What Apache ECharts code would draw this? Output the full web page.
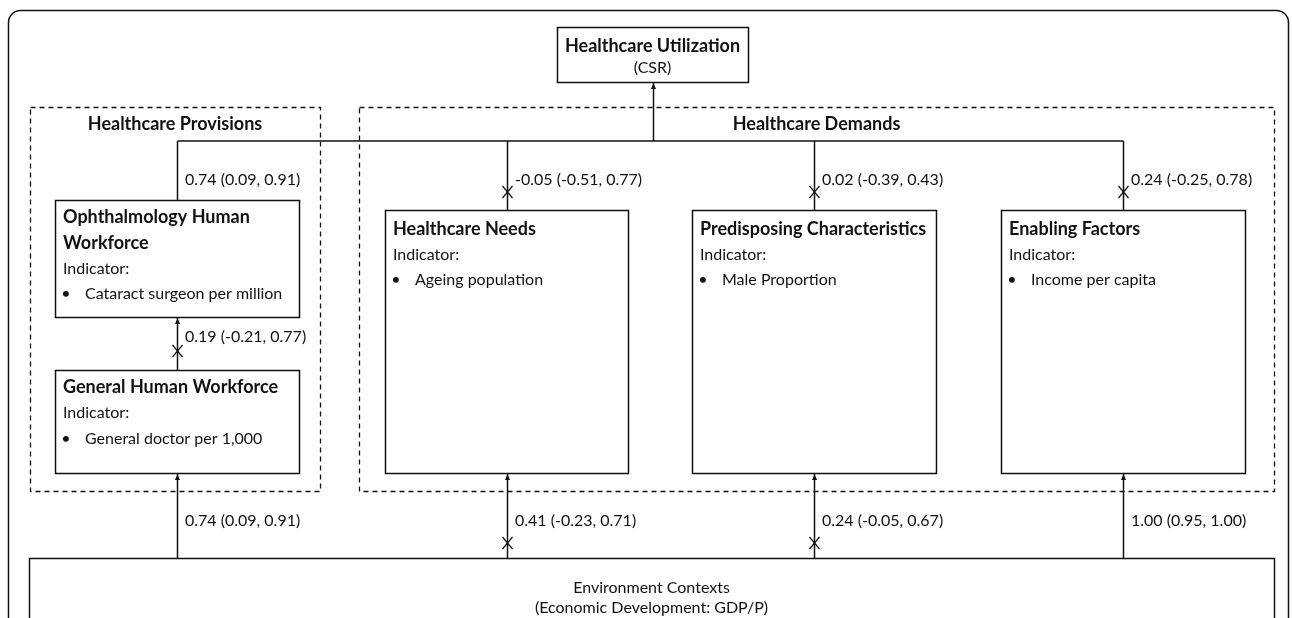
<!DOCTYPE html>
<html><head><meta charset="utf-8">
<script src="https://cdn.jsdelivr.net/npm/echarts@6/dist/echarts.min.js"></script>
<style>html,body{margin:0;padding:0;background:#fff}#c{width:1292px;height:618px}</style>
</head><body><div id="c"></div>
<script>
// ---- data ----
const nodeIds = ['util','ophth','general','needs','pred','enab','env'];
const nodeTitles = ['Healthcare Utilization','Ophthalmology Human|Workforce','General Human Workforce','Healthcare Needs','Predisposing Characteristics','Enabling Factors','Environment Contexts'];
const nodeSubtitles = ['(CSR)','','','','','','(Economic Development: GDP/P)'];
const nodeIndicators = ['', 'Cataract surgeon per million','General doctor per 1,000','Ageing population','Male Proportion','Income per capita',''];
const groupTitles = ['Healthcare Provisions','Healthcare Demands'];
// paths: from -> to, estimate (lower, upper)
const pathFrom = ['ophth','needs','pred','enab','general','env','env','env','env'];
const pathTo   = ['util','util','util','util','ophth','general','needs','pred','enab'];
const pathEst   = [0.74, -0.05, 0.02, 0.24, 0.19, 0.74, 0.41, 0.24, 1.00];
const pathLower = [0.09, -0.51, -0.39, -0.25, -0.21, 0.09, -0.23, -0.05, 0.95];
const pathUpper = [0.91, 0.77, 0.43, 0.78, 0.77, 0.91, 0.71, 0.67, 1.00];

// ---- layout (positions / sizes) ----
const boxLayout = {
  util:{x:557,y:27,w:191,h:55},
  ophth:{x:55,y:200,w:244,h:117},
  general:{x:55,y:370,w:244,h:103},
  needs:{x:385,y:210,w:243,h:263},
  pred:{x:692,y:210,w:244,h:263},
  enab:{x:1001,y:210,w:244,h:263},
  env:{x:29,y:558,w:1245,h:120}
};
const groupLayout = [{x:30,y:107,w:290,h:384},{x:359,y:107,w:915,h:384}];
const busY = 141;
const FONT = 'Lato';
const INK = '#111';
const REG = '16px ' + FONT;
const BOLD = 'bold 18px ' + FONT;
const els = [];

function fmt(v){ return v.toFixed(2); }

// outer frame
els.push({type:'rect', shape:{x:8.5,y:10.5,width:1280,height:700,r:12}, style:{fill:'none',stroke:INK,lineWidth:1.5}});

// groups
groupLayout.forEach((g,i)=>{
  els.push({type:'rect', shape:{x:g.x+0.5,y:g.y+0.5,width:g.w,height:g.h}, style:{fill:'none',stroke:INK,lineWidth:1.3,lineDash:[5,4]}});
  els.push({type:'text', x:g.x+g.w/2, y:g.y+17, style:{text:groupTitles[i],font:BOLD,fill:INK,align:'center',verticalAlign:'middle'}});
});

// boxes
nodeIds.forEach((id,i)=>{
  const b = boxLayout[id];
  els.push({type:'rect', shape:{x:b.x+0.5,y:b.y+0.5,width:b.w,height:b.h}, style:{fill:'#fff',stroke:INK,lineWidth:1.5}, z:2});
  if (id==='util'){
    els.push({type:'text', x:b.x+b.w/2, y:b.y+19, z:3, style:{text:nodeTitles[i],font:BOLD,fill:INK,align:'center',verticalAlign:'middle'}});
    els.push({type:'text', x:b.x+b.w/2, y:b.y+41, z:3, style:{text:nodeSubtitles[i],font:REG,fill:INK,align:'center',verticalAlign:'middle'}});
  } else if (id==='env'){
    els.push({type:'text', x:b.x+b.w/2, y:b.y+30, z:3, style:{text:nodeTitles[i],font:REG,fill:INK,align:'center',verticalAlign:'middle'}});
    els.push({type:'text', x:b.x+b.w/2, y:b.y+50, z:3, style:{text:nodeSubtitles[i],font:REG,fill:INK,align:'center',verticalAlign:'middle'}});
  } else {
    const lines = nodeTitles[i].split('|');
    let y = b.y + (id==='needs'||id==='pred'||id==='enab' ? 19 : 17.5);
    lines.forEach(l=>{
      els.push({type:'text', x:b.x+8, y:y, z:3, style:{text:l,font:BOLD,fill:INK,align:'left',verticalAlign:'middle'}});
      y += 25.5;
    });
    els.push({type:'text', x:b.x+8, y:y, z:3, style:{text:'Indicator:',font:REG,fill:INK,align:'left',verticalAlign:'middle'}});
    y += 25.5;
    els.push({type:'text', x:b.x+11, y:y, z:3, style:{text:'•',font:REG,fill:INK,align:'center',verticalAlign:'middle'}});
    els.push({type:'text', x:b.x+30, y:y, z:3, style:{text:nodeIndicators[i],font:REG,fill:INK,align:'left',verticalAlign:'middle'}});
  }
});

function cx(id){ const b=boxLayout[id]; return Math.round(b.x+b.w/2)+0.5; }
function line(x1,y1,x2,y2,w){ els.push({type:'line', shape:{x1,y1,x2,y2}, style:{stroke:INK,lineWidth:w||1.5}, z:1}); }
function arrowUp(x,y){ els.push({type:'polygon', shape:{points:[[x,y],[x-2.5,y+6],[x+2.5,y+6]]}, style:{fill:INK}, z:4}); }
function cross(x,y){ line(x-5,y-6,x+5,y+6,1.2); line(x-5,y+6,x+5,y-6,1.2); }

// bus to utilization
const stemXs = pathFrom.slice(0,4).map(cx);
line(Math.min(...stemXs), busY, Math.max(...stemXs), busY);
const ux = cx('util');
line(ux, busY, ux, boxLayout.util.y+boxLayout.util.h+1);
arrowUp(ux, boxLayout.util.y+boxLayout.util.h+1);

pathFrom.forEach((f,i)=>{
  const t = pathTo[i];
  const x = t==='util' ? cx(f) : cx(t);
  const label = fmt(pathEst[i])+' ('+fmt(pathLower[i])+', '+fmt(pathUpper[i])+')';
  const ns = pathLower[i] < 0 && pathUpper[i] > 0;
  let ly, xy;
  if (t==='util'){
    line(x, boxLayout[f].y, x, busY);
    ly = 180; xy = 192;
  } else {
    const y2 = boxLayout[t].y + boxLayout[t].h + 1;
    line(x, boxLayout[f].y, x, y2);
    arrowUp(x, y2);
    if (f==='env'){ ly = 521; xy = 543; } else { ly = 337; xy = 351; }
  }
  els.push({type:'text', x:x+7.5, y:ly, z:3, style:{text:label,font:REG,fill:INK,align:'left',verticalAlign:'middle'}});
  if (ns) cross(x, xy);
});

const chart = echarts.init(document.getElementById('c'));
chart.setOption({backgroundColor:'#fff', animation:false, graphic:{elements:els}});
</script></body></html>
